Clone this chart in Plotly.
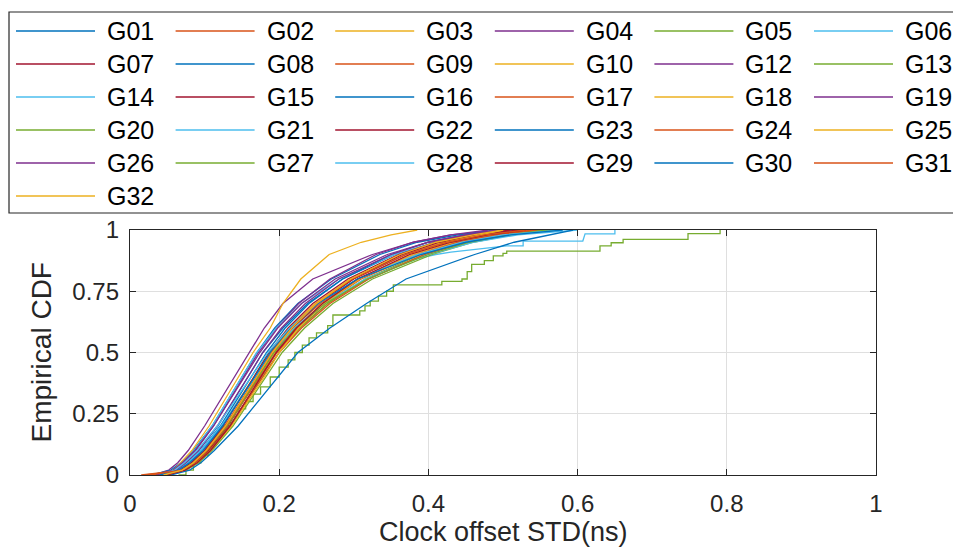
import plotly.graph_objects as go

# ---------------- data ----------------
names = ["G01", "G02", "G03", "G04", "G05", "G06", "G07", "G08", "G09", "G10",
         "G12", "G13", "G14", "G15", "G16", "G17", "G18", "G19", "G20", "G21",
         "G22", "G23", "G24", "G25", "G26", "G27", "G28", "G29", "G30", "G31", "G32"]

palette = ["#0072BD", "#D95319", "#EDB120", "#7E2F8E", "#77AC30", "#4DBEEE", "#A2142F"]

# CDF levels at which the offsets below were read
cdf_levels = [0, 0.02, 0.05, 0.1, 0.2, 0.3, 0.4, 0.5, 0.6, 0.7, 0.8, 0.9, 0.95, 0.98, 1.0]

# clock offset STD (ns) read at each CDF level
offsets = {
    "G01": [0.035, 0.06, 0.075, 0.092, 0.118, 0.138, 0.157, 0.178, 0.205, 0.238, 0.285, 0.355, 0.41, 0.46, 0.52],
    "G02": [0.03, 0.068, 0.082, 0.1, 0.127, 0.148, 0.168, 0.19, 0.218, 0.255, 0.305, 0.38, 0.435, 0.49, 0.54],
    "G03": [0.04, 0.066, 0.08, 0.097, 0.123, 0.145, 0.166, 0.187, 0.214, 0.248, 0.295, 0.365, 0.42, 0.47, 0.51],
    "G04": [0.03, 0.052, 0.064, 0.078, 0.1, 0.12, 0.14, 0.16, 0.18, 0.205, 0.245, 0.325, 0.38, 0.43, 0.5],
    "G07": [0.045, 0.07, 0.085, 0.102, 0.128, 0.15, 0.17, 0.19, 0.217, 0.252, 0.3, 0.37, 0.425, 0.475, 0.53],
    "G08": [0.03, 0.055, 0.068, 0.085, 0.11, 0.13, 0.15, 0.17, 0.194, 0.225, 0.27, 0.335, 0.385, 0.44, 0.49],
    "G09": [0.02, 0.075, 0.09, 0.108, 0.135, 0.155, 0.176, 0.197, 0.226, 0.265, 0.318, 0.395, 0.45, 0.5, 0.55],
    "G10": [0.04, 0.07, 0.086, 0.104, 0.13, 0.152, 0.173, 0.194, 0.222, 0.258, 0.308, 0.38, 0.435, 0.485, 0.53],
    "G12": [0.035, 0.06, 0.072, 0.088, 0.112, 0.132, 0.152, 0.172, 0.196, 0.226, 0.268, 0.33, 0.38, 0.43, 0.48],
    "G13": [0.045, 0.072, 0.088, 0.106, 0.133, 0.155, 0.177, 0.2, 0.228, 0.265, 0.315, 0.39, 0.445, 0.5, 0.56],
    "G14": [0.04, 0.058, 0.07, 0.086, 0.11, 0.13, 0.15, 0.17, 0.196, 0.23, 0.28, 0.355, 0.41, 0.46, 0.52],
    "G15": [0.05, 0.072, 0.087, 0.105, 0.131, 0.152, 0.172, 0.192, 0.218, 0.252, 0.298, 0.365, 0.415, 0.465, 0.52],
    "G16": [0.04, 0.063, 0.078, 0.095, 0.121, 0.142, 0.162, 0.183, 0.208, 0.24, 0.285, 0.35, 0.4, 0.45, 0.5],
    "G17": [0.03, 0.07, 0.086, 0.103, 0.13, 0.152, 0.174, 0.196, 0.224, 0.26, 0.31, 0.385, 0.44, 0.49, 0.54],
    "G18": [0.04, 0.058, 0.068, 0.083, 0.106, 0.126, 0.146, 0.165, 0.188, 0.205, 0.229, 0.267, 0.31, 0.35, 0.385],
    "G19": [0.035, 0.058, 0.07, 0.087, 0.112, 0.133, 0.153, 0.174, 0.198, 0.23, 0.275, 0.345, 0.4, 0.45, 0.5],
    "G20": [0.045, 0.075, 0.092, 0.11, 0.138, 0.16, 0.182, 0.204, 0.234, 0.272, 0.325, 0.405, 0.46, 0.51, 0.57],
    "G21": [0.04, 0.062, 0.077, 0.095, 0.122, 0.145, 0.167, 0.19, 0.22, 0.26, 0.315, 0.4, 0.46, 0.52, 0.6],
    "G22": [0.045, 0.068, 0.082, 0.1, 0.125, 0.146, 0.166, 0.186, 0.212, 0.245, 0.292, 0.36, 0.41, 0.46, 0.51],
    "G23": [0.055, 0.08, 0.095, 0.113, 0.145, 0.172, 0.198, 0.225, 0.268, 0.317, 0.37, 0.462, 0.515, 0.565, 0.594],
    "G24": [0.015, 0.072, 0.088, 0.107, 0.134, 0.156, 0.178, 0.2, 0.23, 0.268, 0.32, 0.395, 0.45, 0.5, 0.545],
    "G25": [0.045, 0.073, 0.09, 0.108, 0.136, 0.158, 0.18, 0.2, 0.226, 0.26, 0.308, 0.375, 0.425, 0.47, 0.5],
    "G26": [0.035, 0.062, 0.075, 0.092, 0.117, 0.138, 0.158, 0.178, 0.203, 0.235, 0.28, 0.35, 0.4, 0.45, 0.49],
    "G27": [0.05, 0.07, 0.085, 0.103, 0.13, 0.151, 0.172, 0.193, 0.222, 0.262, 0.318, 0.4, 0.455, 0.505, 0.56],
    "G28": [0.04, 0.06, 0.073, 0.09, 0.117, 0.14, 0.162, 0.185, 0.214, 0.252, 0.305, 0.385, 0.445, 0.5, 0.58],
    "G29": [0.05, 0.074, 0.09, 0.108, 0.134, 0.155, 0.175, 0.196, 0.223, 0.258, 0.305, 0.375, 0.43, 0.48, 0.53],
    "G30": [0.04, 0.065, 0.08, 0.098, 0.124, 0.146, 0.167, 0.188, 0.216, 0.252, 0.305, 0.39, 0.45, 0.51, 0.58],
    "G31": [0.025, 0.07, 0.085, 0.103, 0.129, 0.15, 0.17, 0.19, 0.217, 0.25, 0.298, 0.37, 0.425, 0.475, 0.53],
    "G32": [0.045, 0.07, 0.085, 0.102, 0.128, 0.149, 0.17, 0.191, 0.217, 0.25, 0.296, 0.362, 0.41, 0.46, 0.5],
}

# G05: few samples, visible staircase
g05_x = [0.065, 0.075, 0.085, 0.095, 0.105, 0.115, 0.125, 0.135, 0.145, 0.155, 0.165, 0.175, 0.188, 0.2,
         0.212, 0.221, 0.231, 0.24, 0.25, 0.265, 0.272, 0.308, 0.315, 0.322, 0.333, 0.344, 0.353, 0.418,
         0.445, 0.452, 0.458, 0.475, 0.487, 0.5, 0.505, 0.63, 0.645, 0.661, 0.748, 0.791]
g05_y = [0.0, 0.02, 0.05, 0.08, 0.12, 0.16, 0.2, 0.24, 0.27, 0.3, 0.33, 0.36, 0.4, 0.44,
         0.47, 0.5, 0.53, 0.56, 0.58, 0.61, 0.653, 0.67, 0.69, 0.71, 0.73, 0.75, 0.776, 0.79,
         0.8, 0.83, 0.86, 0.875, 0.894, 0.905, 0.914, 0.935, 0.948, 0.962, 0.985, 1.0]

# G06: long flat tail
g06_x = [0.04, 0.063, 0.078, 0.096, 0.123, 0.146, 0.168, 0.19, 0.22, 0.26, 0.32, 0.38, 0.41, 0.43,
         0.47, 0.505, 0.527, 0.527, 0.607, 0.61, 0.65, 0.65]
g06_y = [0, 0.02, 0.05, 0.1, 0.2, 0.3, 0.4, 0.5, 0.6, 0.7, 0.8, 0.88, 0.9, 0.91,
         0.925, 0.935, 0.935, 0.955, 0.955, 0.984, 0.984, 1.0]

x_ticks = [0, 0.2, 0.4, 0.6, 0.8, 1]
y_ticks = [0, 0.25, 0.5, 0.75, 1]
y_tick_labels = ["0", "0.25", "0.5", "0.75", "1"]
x_title = "Clock offset STD(ns)"
y_title = "Empirical CDF"

# ---------------- figure ----------------
W, H = 953, 550
L, R, T, B = 130, 77, 230, 75
FONT = "Liberation Sans, Arial, Helvetica, sans-serif"

fig = go.Figure()
colors = {}
for i, n in enumerate(names):
    c = palette[i % len(palette)]
    colors[n] = c
    if n == "G05":
        x, y, shape = g05_x, g05_y, "hv"
    elif n == "G06":
        x, y, shape = g06_x, g06_y, "linear"
    else:
        x, y, shape = offsets[n], cdf_levels, "linear"
    fig.add_trace(go.Scatter(x=x, y=y, mode="lines", name=n, showlegend=False,
                             line=dict(color=c, width=1.3, shape=shape)))

# manual legend (MATLAB style, 6 columns, row-major)
pw, ph = W - L - R, H - T - B
def px2x(px):
    return (px - L) / pw
def py2y(py):
    return (H - B - py) / ph

shapes = [dict(type="rect", xref="paper", yref="paper",
               x0=px2x(9), x1=px2x(965), y0=py2y(213), y1=py2y(12),
               line=dict(color="#262626", width=1.2), fillcolor="white", layer="above")]
annotations = []
ncol = 6
for i, n in enumerate(names):
    r, c = divmod(i, ncol)
    x0 = 16 + 159.6 * c
    yy = 31 + 33 * r
    shapes.append(dict(type="line", xref="paper", yref="paper",
                       x0=px2x(x0), x1=px2x(x0 + 79), y0=py2y(yy), y1=py2y(yy),
                       line=dict(color=colors[n], width=1.3)))
    annotations.append(dict(xref="paper", yref="paper", x=px2x(x0 + 89), y=py2y(yy),
                            text=n, showarrow=False, xanchor="left", yanchor="middle",
                            font=dict(family=FONT, size=25, color="#000000")))

# axis titles
annotations.append(dict(xref="paper", yref="paper", x=0.5, y=py2y(532), text=x_title,
                        showarrow=False, xanchor="center", yanchor="middle",
                        font=dict(family=FONT, size=27, color="#262626")))
annotations.append(dict(xref="paper", yref="paper", x=px2x(41), y=0.5, text=y_title,
                        showarrow=False, xanchor="center", yanchor="middle", textangle=-90,
                        font=dict(family=FONT, size=28, color="#262626")))

fig.update_layout(
    width=W, height=H, margin=dict(l=L, r=R, t=T, b=B),
    paper_bgcolor="white", plot_bgcolor="white",
    font=dict(family=FONT, color="#262626"),
    shapes=shapes, annotations=annotations,
)
axis_common = dict(showgrid=True, gridcolor="#dfdfdf", gridwidth=1, zeroline=False,
                   showline=True, linecolor="#262626", linewidth=1.3, mirror="ticks",
                   ticks="inside", ticklen=6, tickcolor="#262626", tickwidth=1.3,
                   automargin=False,
                   tickfont=dict(family=FONT, size=24, color="#262626"))
fig.update_xaxes(range=[0, 1], tickvals=x_ticks, ticktext=[f"{v:g}" for v in x_ticks],
                 ticklabelstandoff=7, **axis_common)
fig.update_yaxes(range=[0, 1], tickvals=y_ticks, ticktext=y_tick_labels,
                 ticklabelstandoff=5, **axis_common)

fig.write_html("out.html")
